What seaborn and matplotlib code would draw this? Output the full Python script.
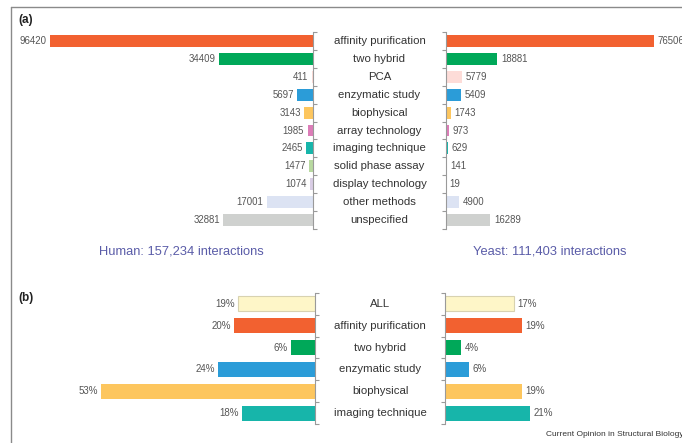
import matplotlib
matplotlib.use("Agg")
import matplotlib.pyplot as plt
import matplotlib.transforms as mtrans
from matplotlib.lines import Line2D
import numpy as np
import pandas as pd
import seaborn as sns

# ---------------- data ----------------
methods_a = ["affinity purification", "two hybrid", "PCA", "enzymatic study",
             "biophysical", "array technology", "imaging technique",
             "solid phase assay", "display technology", "other methods",
             "unspecified"]
human_a = [96420, 34409, 411, 5697, 3143, 1985, 2465, 1477, 1074, 17001, 32881]
yeast_a = [76506, 18881, 5779, 5409, 1743, 973, 629, 141, 19, 4900, 16289]
colors_a = ["#F26130", "#00A859", "#FDDCD8", "#2B9CD8", "#FDC65E", "#DC7DB8",
            "#17B5AA", "#B8D9A0", "#D9CDE5", "#DCE3F3", "#CFD1CF"]

methods_b = ["ALL", "affinity purification", "two hybrid", "enzymatic study",
             "biophysical", "imaging technique"]
human_b = [19, 20, 6, 24, 53, 18]
yeast_b = [17, 19, 4, 6, 19, 21]
colors_b = ["#FEF6C8", "#F26130", "#00A859", "#2B9CD8", "#FDC65E", "#17B5AA"]

human_title = "Human: 157,234 interactions"
yeast_title = "Yeast: 111,403 interactions"
caption = "Current Opinion in Structural Biology"

# ---------------- style ----------------
sns.set_style("white")
plt.rcParams["font.family"] = ["Liberation Sans", "DejaVu Sans"]

W, H = 682, 443
fig = plt.figure(figsize=(W / 100, H / 100), dpi=100)
fig.patch.set_facecolor("white")


def px_axes(x0, x1, ytop, ybot):
    return fig.add_axes([x0 / W, 1 - ybot / H, (x1 - x0) / W, (ybot - ytop) / H])


AXIS_COL = "#9A9A9A"


def draw(ax, cats, vals, colors, side, xmax, width, labels, fs):
    df = pd.DataFrame({"method": cats, "value": vals})
    sns.barplot(data=df, x="value", y="method", hue="method",
                palette=dict(zip(cats, colors)), order=cats, hue_order=cats,
                orient="h", width=width, legend=False, dodge=False,
                saturation=1, ax=ax, edgecolor="none")
    n = len(cats)
    if side == "left":
        ax.set_xlim(xmax, 0)
    else:
        ax.set_xlim(0, xmax)
    ax.set_yticks(np.arange(-0.5, n))
    ax.set_ylim(n - 0.5, -0.5)
    ax.set_xticks([])
    ax.set_xlabel("")
    ax.set_ylabel("")
    ax.patch.set_alpha(0)
    for s in ["top", "bottom", "left", "right"]:
        ax.spines[s].set_visible(False)
    keep = "right" if side == "left" else "left"
    ax.spines[keep].set_visible(True)
    ax.spines[keep].set_color(AXIS_COL)
    ax.spines[keep].set_linewidth(0.8)
    if side == "left":
        ax.yaxis.tick_right()
    else:
        ax.yaxis.tick_left()
    ax.tick_params(axis="y", direction="out", length=3, width=0.8,
                   color=AXIS_COL, labelleft=False, labelright=False)
    sign = -1 if side == "left" else 1
    for i, (v, lab) in enumerate(zip(vals, labels)):
        ax.annotate(lab, xy=(v, i), xytext=(sign * 2.5, 0),
                    textcoords="offset points",
                    ha="right" if side == "left" else "left",
                    va="center", fontsize=fs, color="#555555",
                    annotation_clip=False)


# ---------------- panel a ----------------
scale_a = 0.002723  # px per interaction
axL = px_axes(15, 313, 32, 229)
axR = px_axes(446, 682, 32, 229)
draw(axL, methods_a, human_a, colors_a, "left", 298 / scale_a, 0.67,
     [str(v) for v in human_a], 6.9)
draw(axR, methods_a, yeast_a, colors_a, "right", 236 / scale_a, 0.67,
     [str(v) for v in yeast_a], 6.9)
tr = mtrans.blended_transform_factory(fig.transFigure, axL.transData)
for i, m in enumerate(methods_a):
    axL.text(379.5 / W, i, m, transform=tr, ha="center", va="center",
             fontsize=8.2, color="#333333", clip_on=False)

# ---------------- panel b ----------------
scale_b = 4.03  # px per percent
bxL = px_axes(15, 315, 293, 424)
bxR = px_axes(445, 682, 293, 424)
draw(bxL, methods_b, human_b, colors_b, "left", 300 / scale_b, 0.69,
     [f"{v}%" for v in human_b], 7.0)
draw(bxR, methods_b, yeast_b, colors_b, "right", 237 / scale_b, 0.69,
     [f"{v}%" for v in yeast_b], 7.0)
# outline on the ALL bars
for ax in (bxL, bxR):
    for p in ax.patches:
        if abs(p.get_y() + p.get_height() / 2) < 0.01:
            p.set_edgecolor("#D8D2B0")
            p.set_linewidth(0.8)
tr = mtrans.blended_transform_factory(fig.transFigure, bxL.transData)
for i, m in enumerate(methods_b):
    bxL.text(380 / W, i, m, transform=tr, ha="center", va="center",
             fontsize=8.2, color="#333333", clip_on=False)

# ---------------- texts ----------------
fig.text(181 / W, 1 - 252 / H, human_title, ha="center", va="center",
         fontsize=9.3, color="#5A5CA8")
fig.text(550 / W, 1 - 252 / H, yeast_title, ha="center", va="center",
         fontsize=9.3, color="#5A5CA8")
fig.text(18 / W, 1 - 20 / H, "(a)", ha="left", va="center", fontsize=8.5,
         fontweight="bold", color="#222222")
fig.text(18 / W, 1 - 298 / H, "(b)", ha="left", va="center", fontsize=8.5,
         fontweight="bold", color="#222222")
fig.text(684 / W, 1 - 435 / H, caption, ha="right", va="center", fontsize=6,
         color="#333333")

# frame
fig.add_artist(Line2D([11 / W, 11 / W], [0, 1 - 7 / H], transform=fig.transFigure,
                      color="#8A8A8A", linewidth=1))
fig.add_artist(Line2D([11 / W, 1], [1 - 7 / H, 1 - 7 / H], transform=fig.transFigure,
                      color="#8A8A8A", linewidth=1))

fig.savefig("out.png", dpi=100, facecolor="white")
